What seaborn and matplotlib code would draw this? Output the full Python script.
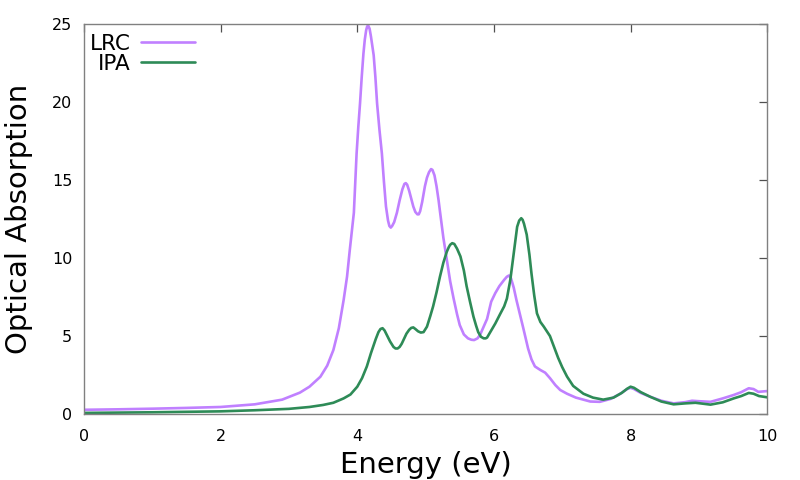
import matplotlib
matplotlib.use("Agg")
import matplotlib.pyplot as plt
import seaborn as sns

# Values
lrc_energy = [0.0, 0.5, 1.0, 1.5, 2.0, 2.5, 2.9, 3.16, 3.3, 3.46, 3.56, 3.65, 3.73, 3.80,
              3.85, 3.89, 3.92, 3.95, 3.97, 3.99, 4.015, 4.04, 4.065, 4.09, 4.11, 4.13,
              4.145, 4.16, 4.18, 4.20, 4.22, 4.24, 4.265, 4.29, 4.325, 4.36, 4.39, 4.42,
              4.45, 4.47, 4.49, 4.51, 4.54, 4.58, 4.62, 4.66, 4.69, 4.71, 4.73, 4.76,
              4.79, 4.82, 4.85, 4.88, 4.90, 4.92, 4.95, 4.99, 5.02, 5.05, 5.08, 5.10,
              5.13, 5.16, 5.19, 5.21, 5.26, 5.31, 5.36, 5.41, 5.46, 5.50, 5.56, 5.62,
              5.67, 5.71, 5.76, 5.80, 5.85, 5.90, 5.96, 6.02, 6.08, 6.15, 6.19, 6.22,
              6.25, 6.29, 6.33, 6.38, 6.43, 6.50, 6.55, 6.60, 6.68, 6.75, 6.82, 6.90,
              6.97, 7.07, 7.20, 7.41, 7.55, 7.71, 7.85, 7.95, 8.0, 8.05, 8.15, 8.29,
              8.45, 8.63, 8.80, 8.90, 9.0, 9.17, 9.35, 9.51, 9.62, 9.73, 9.80, 9.87,
              10.0]
lrc_abs = [0.27, 0.30, 0.34, 0.39, 0.45, 0.62, 0.92, 1.37, 1.75, 2.39, 3.1, 4.1, 5.5, 7.3,
           8.8, 10.5, 11.7, 12.9, 14.8, 16.7, 18.4, 19.9, 21.6, 23.1, 24.0, 24.6,
           24.85, 24.9, 24.7, 24.2, 23.6, 23.0, 21.6, 19.9, 18.2, 16.7, 14.9, 13.3,
           12.4, 12.05, 11.95, 12.05, 12.3, 12.9, 13.7, 14.4, 14.75, 14.8, 14.7, 14.3,
           13.8, 13.3, 12.95, 12.8, 12.8, 13.0, 13.6, 14.6, 15.15, 15.5, 15.7, 15.65,
           15.3, 14.6, 13.7, 13.0, 11.3, 9.9, 8.5, 7.4, 6.4, 5.7, 5.1, 4.85,
           4.76, 4.74, 4.85, 5.1, 5.6, 6.1, 7.2, 7.75, 8.2, 8.6, 8.8, 8.88,
           8.7, 8.1, 7.3, 6.4, 5.5, 4.2, 3.5, 3.05, 2.82, 2.65, 2.3, 1.85,
           1.54, 1.3, 1.05, 0.8, 0.78, 0.97, 1.3, 1.6, 1.68, 1.6, 1.35, 1.1,
           0.85, 0.68, 0.76, 0.85, 0.82, 0.78, 1.0, 1.22, 1.4, 1.65, 1.6, 1.42,
           1.47]

ipa_energy = [0.0, 0.5, 1.0, 1.5, 2.0, 2.5, 3.0, 3.3, 3.5, 3.65, 3.8, 3.9, 4.0, 4.07,
              4.14, 4.20, 4.27, 4.31, 4.34, 4.37, 4.40, 4.44, 4.48, 4.53, 4.56, 4.59,
              4.62, 4.65, 4.72, 4.76, 4.79, 4.82, 4.85, 4.89, 4.93, 4.97, 5.02, 5.07,
              5.11, 5.16, 5.21, 5.26, 5.31, 5.34, 5.36, 5.39, 5.42, 5.46, 5.51, 5.56,
              5.60, 5.65, 5.70, 5.74, 5.77, 5.81, 5.85, 5.88, 5.90, 5.94, 6.02, 6.09,
              6.15, 6.19, 6.24, 6.29, 6.34, 6.37, 6.40, 6.42, 6.44, 6.48, 6.52, 6.55,
              6.59, 6.63, 6.68, 6.73, 6.82, 6.88, 6.94, 7.0, 7.07, 7.16, 7.31, 7.45,
              7.60, 7.75, 7.87, 7.95, 8.0, 8.05, 8.15, 8.29, 8.45, 8.63, 8.80, 8.95,
              9.17, 9.35, 9.51, 9.62, 9.73, 9.80, 9.88, 10.0]
ipa_abs = [0.07, 0.09, 0.11, 0.14, 0.17, 0.24, 0.33, 0.45, 0.58, 0.72, 1.0, 1.25, 1.75, 2.3,
           3.05, 3.9, 4.8, 5.25, 5.45, 5.5, 5.35, 5.0, 4.65, 4.3, 4.2, 4.2,
           4.3, 4.5, 5.15, 5.4, 5.52, 5.55, 5.45, 5.3, 5.22, 5.25, 5.6, 6.3,
           6.9, 7.8, 8.8, 9.7, 10.4, 10.7, 10.85, 10.95, 10.9, 10.6, 10.1, 9.2,
           8.2, 7.2, 6.25, 5.65, 5.25, 4.95, 4.85, 4.85, 4.9, 5.2, 5.8, 6.4,
           6.9, 7.4, 8.6, 10.3, 12.0, 12.4, 12.55, 12.45, 12.2, 11.5, 10.2, 9.0,
           7.6, 6.45, 5.9, 5.6, 5.0, 4.3, 3.6, 3.0, 2.4, 1.8, 1.3, 1.05,
           0.92, 1.05, 1.35, 1.62, 1.75, 1.68, 1.4, 1.1, 0.8, 0.62, 0.68, 0.72,
           0.6, 0.75, 1.0, 1.15, 1.35, 1.3, 1.15, 1.07]

x_ticks = [0, 2, 4, 6, 8, 10]
y_ticks = [0, 5, 10, 15, 20, 25]

sns.set_style("white")
plt.rcParams['font.family'] = ['DejaVu Sans']
plt.rcParams['text.color'] = 'black'
plt.rcParams['axes.labelcolor'] = 'black'
plt.rcParams['xtick.labelcolor'] = 'black'
plt.rcParams['ytick.labelcolor'] = 'black'

fig = plt.figure(figsize=(8, 4.8), dpi=100)
ax = fig.add_axes([0.105, 0.1375, 0.854, 0.8125])

sns.lineplot(x=lrc_energy, y=lrc_abs, ax=ax, color="#c080ff", linewidth=1.9, label="LRC")
sns.lineplot(x=ipa_energy, y=ipa_abs, ax=ax, color="#2e8b57", linewidth=1.9, label="IPA")

ax.set_xlim(0, 10)
ax.set_ylim(0, 25)
ax.set_xticks(x_ticks)
ax.set_yticks(y_ticks)

for s in ax.spines.values():
    s.set_color("#808080")
    s.set_linewidth(1.0)
ax.tick_params(direction="in", length=6, width=0.9, color="#505050",
               top=True, right=True, labelsize=11.5)
ax.tick_params(axis="x", pad=11)
ax.tick_params(axis="y", pad=8.5)

ax.set_xlabel("Energy (eV)", fontsize=21)
ax.set_ylabel("Optical Absorption", fontsize=21)
ax.xaxis.set_label_coords(0.5, -0.096)
ax.yaxis.set_label_coords(-0.075, 0.5)

ax.legend(loc="upper right", bbox_to_anchor=(0.1625, 0.975), frameon=False,
          markerfirst=False, fontsize=15.5, handlelength=2.5, handletextpad=0.5,
          labelspacing=0.0, borderpad=0, borderaxespad=0)

fig.savefig("out.png", dpi=100)
